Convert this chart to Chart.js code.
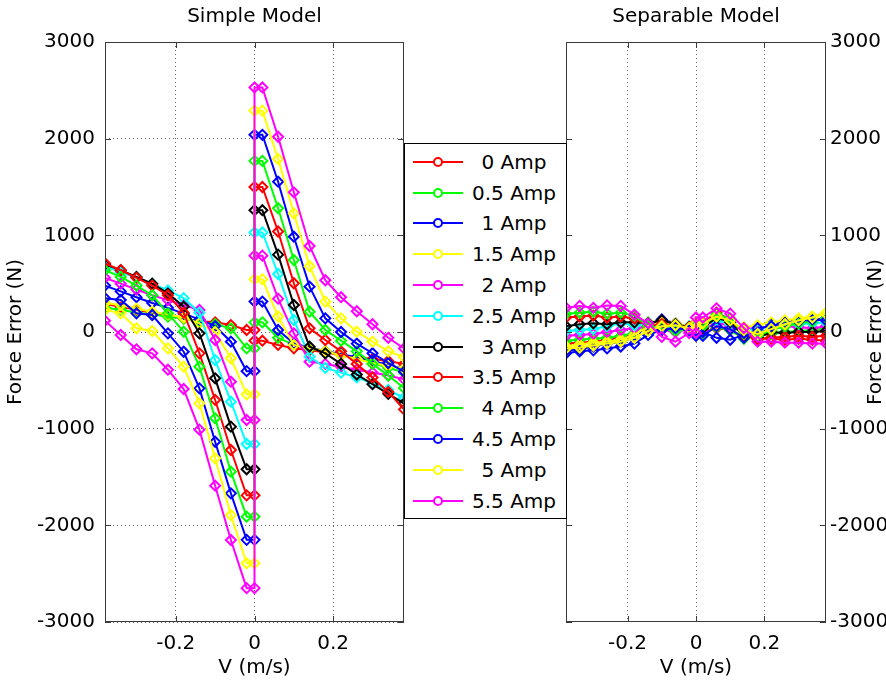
<!DOCTYPE html>
<html><head><meta charset="utf-8">
<script src="https://cdn.jsdelivr.net/npm/chart.js@4.4.0/dist/chart.umd.min.js"></script>
<style>
html,body{margin:0;padding:0;background:#fff;}
#wrap{position:relative;width:886px;height:684px;overflow:hidden;font-family:"DejaVu Sans",sans-serif;background:#fff;}
canvas{position:absolute;left:0;top:0;}
#legend{position:absolute;left:404px;top:143px;width:163px;height:376px;background:#fff;border:1px solid #000;box-sizing:border-box;}
.row{position:absolute;left:0;width:100%;height:30px;}
.ln{position:absolute;left:8px;top:14px;width:50px;height:2px;}
.mk{position:absolute;left:28px;top:10px;width:6px;height:6px;border:2px solid;border-radius:50%;background:#fff;}
.tx{position:absolute;left:62px;width:94px;top:0;line-height:30px;text-align:center;font-size:20px;color:#000;white-space:nowrap;}
</style></head>
<body>
<div id="wrap">
<canvas id="c1" width="886" height="684"></canvas>
<canvas id="c2" width="886" height="684"></canvas>
<div id="legend"></div>
</div>
<script>
// ---- data ----
const velocity = [-0.38,-0.34,-0.30,-0.26,-0.22,-0.18,-0.14,-0.10,-0.06,-0.02,0,0,0.02,0.06,0.10,0.14,0.18,0.22,0.26,0.30,0.34,0.38];
const ampLabels = ['0 Amp','0.5 Amp','1 Amp','1.5 Amp','2 Amp','2.5 Amp','3 Amp','3.5 Amp','4 Amp','4.5 Amp','5 Amp','5.5 Amp'];
const seriesColors = ['#ff0000','#00ff00','#0000ff','#ffff00','#ff00ff','#00ffff','#000000','#ff0000','#00ff00','#0000ff','#ffff00','#ff00ff'];
const xTicks = [-0.2, 0, 0.2];
const yTicks = [-3000,-2000,-1000,0,1000,2000,3000];

// Simple Model force errors (N)
const simple_0A   = [290,260,230,200,170,140,110,100,72,21, 21,-90, -90,-134,-169,-190,-210,-240,-260,-280,-300,-330];
const simple_0_5A = [250,230,200,180,160,140,110,80,38,-169, -169,100, 100,-60,-130,-170,-200,-230,-270,-320,-370,-420];
const simple_1A   = [480,420,360,300,250,190,130,60,-100,-405, -405,315, 315,21,-120,-160,-200,-230,-260,-300,-340,-380];
const simple_1_5A = [300,280,240,210,180,150,90,0,-272,-645, -645,545, 545,160,-134,-165,-200,-240,-280,-320,-350,-380];
const simple_2A   = [560,500,440,380,330,280,228,-83,-514,-910, -910,790, 790,345,-14,-307,-330,-360,-390,-420,-450,-490];
const simple_2_5A = [680,620,560,500,430,350,200,-290,-721,-1159, -1159,1030, 1030,600,124,-255,-372,-420,-470,-530,-600,-680];
const simple_3A   = [700,640,570,500,400,262,-14,-479,-979,-1420, -1420,1260, 1260,800,279,-152,-221,-330,-440,-540,-640,-740];
const simple_3_5A = [710,640,560,480,380,200,-221,-703,-1221,-1690, -1690,1500, 1500,1040,504,38,-83,-200,-330,-470,-620,-800];
const simple_4A   = [640,570,480,380,193,3,-359,-893,-1445,-1910, -1910,1770, 1770,1280,745,210,21,-90,-200,-330,-450,-580];
const simple_4_5A = [350,331,193,176,-14,-204,-583,-1135,-1669,-2150, -2150,2040, 2040,1555,986,469,141,0,-120,-220,-320,-410];
const simple_5A   = [230,193,38,10,-169,-359,-738,-1307,-1893,-2393, -2393,2290, 2290,1790,1228,680,314,141,3,-100,-200,-260];
const simple_5_5A = [117,-31,-179,-221,-390,-590,-1010,-1590,-2152,-2650, -2650,2530, 2530,2020,1445,890,535,360,215,80,-60,-170];

// Separable Model force errors (N)
const separable_0A   = [-120,-110,-100,-80,-50,-20,40,60,50,30,30,0,0,40,20,-50,-60,-70,-80,-70,-80,-90];
const separable_0_5A = [-90,-80,-70,-60,-40,-10,100,80,30,20,20,-20,-20,50,20,-70,-40,-20,0,10,20,40];
const separable_1A   = [-190,-180,-150,-120,-100,-60,80,130,90,40,40,0,0,-60,-80,-30,20,80,110,120,130,140];
const separable_1_5A = [-150,-130,-110,-100,-80,-30,60,100,90,60,60,30,30,80,80,50,70,100,120,140,160,200];
const separable_2A   = [-40,-30,-20,0,20,40,60,20,0,30,30,20,20,100,60,30,40,50,60,50,40,60];
const separable_2_5A = [10,20,30,60,90,70,80,30,40,60,60,70,70,120,80,20,30,60,70,80,90,100];
const separable_3A   = [60,80,90,80,100,100,90,120,80,50,50,40,40,150,100,-40,-60,0,-10,0,0,10];
const separable_3_5A = [150,160,170,150,160,140,60,80,60,50,50,100,100,200,130,-30,-80,-60,-50,-40,-50,-40];
const separable_4A   = [190,200,210,190,200,170,60,30,10,30,30,60,60,180,140,-20,-40,20,60,90,110,140];
const separable_4_5A = [-220,-200,-190,-170,-150,-120,-30,20,40,20,20,-40,-40,60,30,-60,40,60,90,110,130,120];
const separable_5A   = [-170,-160,-140,-120,-100,-60,10,60,70,40,40,90,90,160,120,20,-20,30,80,120,150,190];
const separable_5_5A = [250,270,250,275,270,180,90,-50,-100,-10,-10,150,150,245,190,40,-100,-100,-110,-110,-120,-120];

const simpleSeries = [simple_0A,simple_0_5A,simple_1A,simple_1_5A,simple_2A,simple_2_5A,simple_3A,simple_3_5A,simple_4A,simple_4_5A,simple_5A,simple_5_5A];
const separableSeries = [separable_0A,separable_0_5A,separable_1A,separable_1_5A,separable_2A,separable_2_5A,separable_3A,separable_3_5A,separable_4A,separable_4_5A,separable_5A,separable_5_5A];

// ---- chart setup ----
const FAM = '"DejaVu Sans", sans-serif';
const FS = 20;
Chart.defaults.font.family = FAM;
Chart.defaults.font.size = FS;
Chart.defaults.color = '#000';

function buildDatasets(series) {
  return series.map((vals, i) => ({
    label: ampLabels[i],
    data: vals.map((y, j) => ({x: velocity[j], y})),
    borderColor: seriesColors[i],
    backgroundColor: 'rgba(0,0,0,0)',
    borderWidth: 2,
    pointStyle: 'rectRot',
    pointRadius: 5,
    pointBorderWidth: 2,
    pointBorderColor: seriesColors[i],
    pointBackgroundColor: 'rgba(0,0,0,0)',
    tension: 0,
    order: series.length - 1 - i
  }));
}

const framePlugin = {
  id: 'frame',
  afterDraw(chart, args, o) {
    const {ctx, chartArea: a, scales} = chart;
    ctx.save();
    ctx.strokeStyle = '#3a3a3a';
    ctx.lineWidth = 1;
    ctx.strokeRect(a.left + 0.5, a.top + 0.5, a.width - 1, a.height - 1);
    ctx.beginPath();
    xTicks.forEach(v => {
      const x = Math.round(scales.x.getPixelForValue(v)) + 0.5;
      ctx.moveTo(x, a.bottom); ctx.lineTo(x, a.bottom - 6);
      ctx.moveTo(x, a.top); ctx.lineTo(x, a.top + 6);
    });
    yTicks.forEach(v => {
      const y = Math.round(scales.y.getPixelForValue(v)) + 0.5;
      ctx.moveTo(a.left, y); ctx.lineTo(a.left + 6, y);
      ctx.moveTo(a.right, y); ctx.lineTo(a.right - 6, y);
    });
    ctx.stroke();
    ctx.fillStyle = '#000';
    ctx.font = FS + 'px ' + FAM;
    ctx.textAlign = 'center';
    ctx.textBaseline = 'middle';
    ctx.fillText(o.title, (a.left + a.right) / 2, 17);
    if (o.sideTitle) {
      ctx.translate(o.sideX, (a.top + a.bottom) / 2);
      ctx.rotate(-Math.PI / 2);
      ctx.fillText(o.sideTitle, 0, 0);
    }
    ctx.restore();
  }
};

function makeChart(id, series, cfg) {
  return new Chart(document.getElementById(id), {
    type: 'line',
    data: { datasets: buildDatasets(series) },
    options: {
      responsive: false,
      animation: false,
      devicePixelRatio: 1,
      layout: { padding: cfg.padding },
      plugins: {
        legend: { display: false },
        tooltip: { enabled: false },
        frame: { title: cfg.title, sideTitle: cfg.sideTitle, sideX: cfg.sideX }
      },
      scales: {
        x: {
          type: 'linear', min: -0.38, max: 0.38,
          afterBuildTicks: s => { s.ticks = xTicks.map(v => ({value: v})); },
          afterFit: s => { s.height = 62; },
          grid: { color: 'rgba(0,0,0,0.6)', lineWidth: 1, drawTicks: false },
          border: { display: false, dash: [1, 3] },
          ticks: { padding: 10, autoSkip: false, maxRotation: 0, color: '#000',
                   font: { size: FS }, callback: v => String(v) },
          title: { display: true, text: 'V (m/s)', color: '#000', font: { size: FS },
                   padding: { top: 0, bottom: 4 } }
        },
        y: {
          type: 'linear', min: -3000, max: 3000, position: cfg.yPos,
          afterBuildTicks: s => { s.ticks = yTicks.map(v => ({value: v})); },
          afterFit: s => { s.width = cfg.yWidth; },
          grid: { display: cfg.yGrid, color: 'rgba(0,0,0,0.6)', lineWidth: 1, drawTicks: false },
          border: { display: false, dash: [1, 3] },
          ticks: { padding: cfg.yPad, autoSkip: false, color: '#000', font: { size: FS },
                   callback: v => String(v) },
          title: { display: cfg.yTitle, text: 'Force Error (N)', color: '#000', font: { size: FS },
                   padding: { top: 4, bottom: 0 } }
        }
      }
    },
    plugins: [framePlugin]
  });
}

makeChart('c1', simpleSeries, {
  padding: { left: 0, right: 482, top: 42, bottom: 0 },
  title: 'Simple Model', yPos: 'left', yWidth: 105, yGrid: true, yPad: 10, yTitle: true
});
makeChart('c2', separableSeries, {
  padding: { left: 566, right: 0, top: 42, bottom: 0 },
  title: 'Separable Model', yPos: 'right', yWidth: 60, yGrid: false, yPad: 4, yTitle: false,
  sideTitle: 'Force Error (N)', sideX: 876
});

// ---- legend (HTML) ----
const leg = document.getElementById('legend');
ampLabels.forEach((lab, i) => {
  const r = document.createElement('div');
  r.className = 'row';
  r.style.top = (2.7 + i * 30.8) + 'px';
  r.innerHTML = '<div class="ln" style="background:' + seriesColors[i] + '"></div>' +
                '<div class="mk" style="border-color:' + seriesColors[i] + '"></div>' +
                '<div class="tx">' + lab + '</div>';
  leg.appendChild(r);
});
</script>
</body></html>
